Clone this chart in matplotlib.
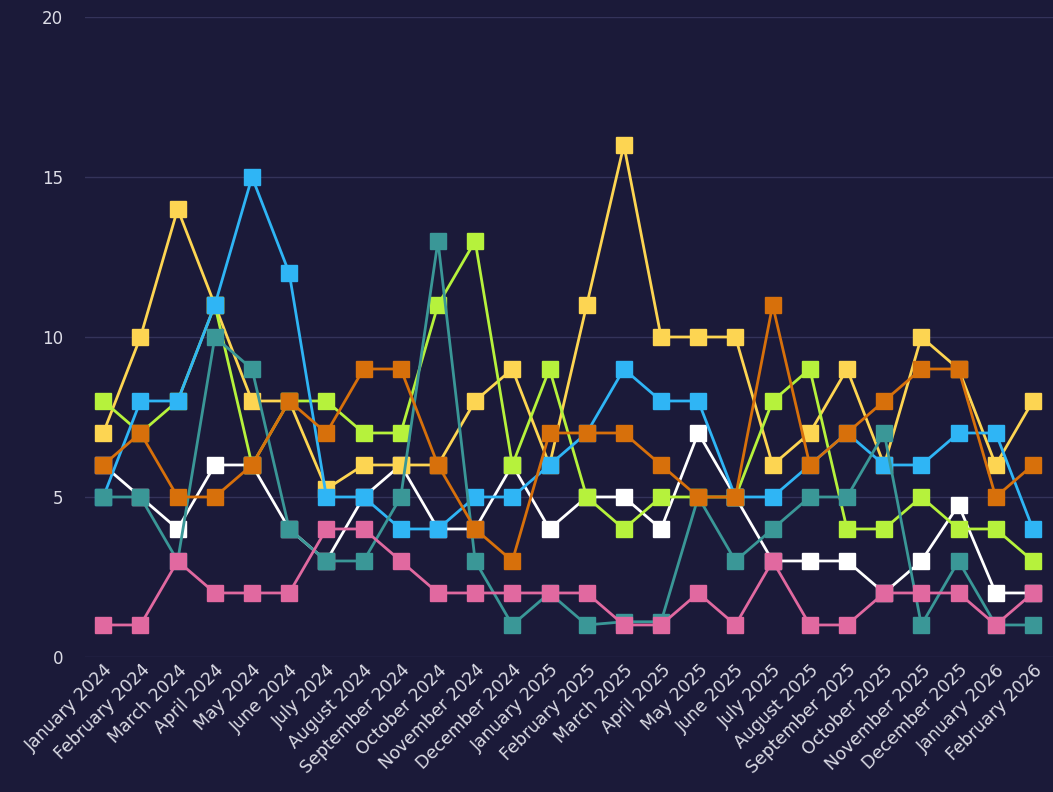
import numpy as np
import matplotlib.pyplot as plt

# months on the x axis
months = [
    "January 2024", "February 2024", "March 2024", "April 2024", "May 2024",
    "June 2024", "July 2024", "August 2024", "September 2024", "October 2024",
    "November 2024", "December 2024", "January 2025", "February 2025",
    "March 2025", "April 2025", "May 2025", "June 2025", "July 2025",
    "August 2025", "September 2025", "October 2025", "November 2025",
    "December 2025", "January 2026", "February 2026",
]

# one list per line
white = [6, 5, 4, 6, 6, 4, 3, 5, 6, 4, 4, 6, 4, 5, 5, 4, 7, 5, 3, 3, 3, 2, 3, 4.75, 2, 2]
yellow = [7, 10, 14, 11, 8, 8, 5.25, 6, 6, 6, 8, 9, 6, 11, 16, 10, 10, 10, 6, 7, 9, 6, 10, 9, 6, 8]
green = [8, 7, 8, 11, 6, 8, 8, 7, 7, 11, 13, 6, 9, 5, 4, 5, 5, 5, 8, 9, 4, 4, 5, 4, 4, 3]
blue = [5, 8, 8, 11, 15, 12, 5, 5, 4, 4, 5, 5, 6, 7, 9, 8, 8, 5, 5, 6, 7, 6, 6, 7, 7, 4]
teal = [5, 5, 3, 10, 9, 4, 3, 3, 5, 13, 3, 1, 2, 1, 1.1, 1.1, 5, 3, 4, 5, 5, 7, 1, 3, 1, 1]
orange = [6, 7, 5, 5, 6, 8, 7, 9, 9, 6, 4, 3, 7, 7, 7, 6, 5, 5, 11, 6, 7, 8, 9, 9, 5, 6]
pink = [1, 1, 3, 2, 2, 2, 4, 4, 3, 2, 2, 2, 2, 2, 1, 1, 2, 1, 3, 1, 1, 2, 2, 2, 1, 2]

bg = "#1b1a39"
text_col = "#dcdce6"

fig = plt.figure(figsize=(10.53, 7.92), dpi=100, facecolor=bg)
ax = fig.add_axes([0.081, 0.1705, 0.919, 0.808])
ax.set_facecolor(bg)

x = np.arange(len(months))
series = [
    (white, "#ffffff"),
    (yellow, "#fdd552"),
    (green, "#b6f23c"),
    (blue, "#2fb5f5"),
    (teal, "#3a9797"),
    (orange, "#d7700b"),
    (pink, "#e169a0"),
]
for vals, col in series:
    ax.plot(x, vals, color=col, linewidth=2, marker="s", markersize=11)

ax.set_xlim(-0.484, 25.54)
ax.set_ylim(0, 20)
ax.set_yticks([0, 5, 10, 15, 20])
ax.set_xticks(x)
ax.set_xticklabels(months, rotation=45, ha="right", rotation_mode="anchor")

ax.grid(axis="y", color="#34335a", linewidth=1)
ax.set_axisbelow(True)
for s in ax.spines.values():
    s.set_visible(False)
ax.tick_params(axis="both", length=0, colors=text_col)
ax.tick_params(axis="y", pad=16, labelsize=12)
ax.tick_params(axis="x", pad=3, labelsize=12.5)

fig.savefig("out.png", dpi=100, facecolor=bg)
